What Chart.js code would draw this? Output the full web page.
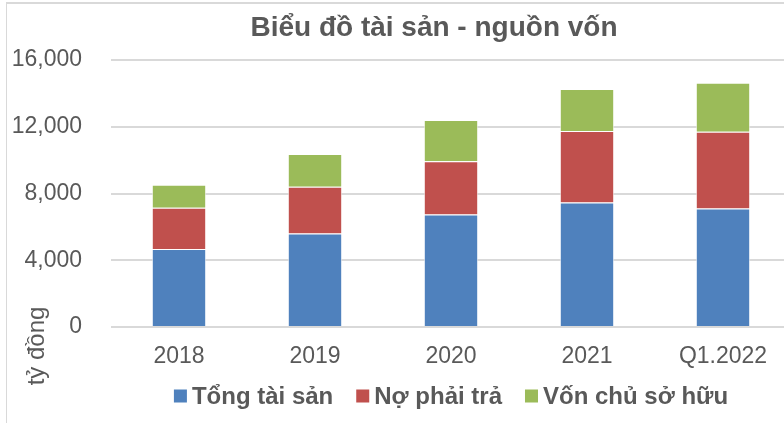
<!DOCTYPE html>
<html lang="vi">
<head>
  <meta charset="utf-8">
  <title>Biểu đồ tài sản - nguồn vốn</title>
  <script src="https://cdn.jsdelivr.net/npm/chart.js"></script>
  <style>
    body {
      margin: 0;
      background: #fff;
      font-family: 'Liberation Sans', Arial, sans-serif;
    }
    .wrap {
      position: relative;
      width: 784px;
      height: 423px;
      overflow: hidden;
    }
    /* thin chart frame like the Excel original */
    .frame {
      position: absolute;
      left: 6px;
      top: 2px;
      width: 900px;
      height: 500px;
      border-left: 1px solid #d9d9d9;
      border-top: 2px solid #d9d9d9;
    }
    canvas {
      position: absolute;
      left: 0;
      top: 0;
    }
  </style>
</head>
<body>
  <div class="wrap">
    <div class="frame"></div>
    <canvas id="chart" width="800" height="423"></canvas>
  </div>

  <script>
    // Data (tỷ đồng)
    const categories = ['2018', '2019', '2020', '2021', 'Q1.2022'];
    const tongTaiSan = [4680, 5600, 6740, 7460, 7100];
    const noPhaiTra = [2460, 2800, 3200, 4280, 4600];
    const vonChuSoHuu = [1380, 1960, 2460, 2520, 2940];
    const seriesNames = ['Tổng tài sản', 'Nợ phải trả', 'Vốn chủ sở hữu'];
    const seriesColors = ['#4F81BD', '#C0504D', '#9BBB59'];

    const textColor = '#595959';
    const fontFamily = "'Liberation Sans', Arial, sans-serif";

    // Title, rotated axis title and legend drawn by hand to match Excel placement
    const decorations = {
      id: 'decorations',
      afterDraw(chart) {
        const ctx = chart.ctx;
        const area = chart.chartArea;
        ctx.save();
        ctx.fillStyle = textColor;

        // title
        ctx.font = 'bold 28px ' + fontFamily;
        ctx.textAlign = 'center';
        ctx.textBaseline = 'middle';
        ctx.fillText('Biểu đồ tài sản - nguồn vốn', 434, 28);

        // y axis title
        ctx.save();
        ctx.translate(37, 346);
        ctx.rotate(-Math.PI / 2);
        ctx.font = '24px ' + fontFamily;
        ctx.fillText('tỷ đồng', 0, 0);
        ctx.restore();

        // legend
        ctx.font = 'bold 24px ' + fontFamily;
        ctx.textAlign = 'left';
        const box = 13, gap = 5, spacing = 23;
        const widths = seriesNames.map(n => box + gap + ctx.measureText(n).width);
        const total = widths.reduce((a, b) => a + b, 0) + spacing * (widths.length - 1);
        let x = (area.left + area.right) / 2 - total / 2;
        const y = 396;
        seriesNames.forEach((name, i) => {
          ctx.fillStyle = seriesColors[i];
          ctx.fillRect(x, y - box / 2, box, box);
          ctx.fillStyle = textColor;
          ctx.fillText(name, x + box + gap, y + 1);
          x += widths[i] + spacing;
        });
        ctx.restore();
      }
    };

    const series = [tongTaiSan, noPhaiTra, vonChuSoHuu];

    new Chart(document.getElementById('chart'), {
      type: 'bar',
      data: {
        labels: categories,
        datasets: series.map((values, i) => ({
          label: seriesNames[i],
          data: values,
          backgroundColor: seriesColors[i],
          borderColor: 'rgba(255,255,255,0.7)',
          borderWidth: 1,
          categoryPercentage: 1,
          barPercentage: 0.4
        }))
      },
      options: {
        responsive: false,
        animation: false,
        layout: { padding: { left: 0, top: 60, right: 9, bottom: 0 } },
        plugins: {
          legend: { display: false },
          title: { display: false },
          tooltip: { enabled: false }
        },
        scales: {
          x: {
            stacked: true,
            grid: { display: false, drawTicks: false },
            border: { display: false },
            ticks: {
              color: textColor,
              font: { family: fontFamily, size: 23 },
              padding: 16,
              maxRotation: 0
            },
            afterFit(scale) { scale.height = 96; }
          },
          y: {
            stacked: true,
            min: 0,
            max: 16000,
            grid: { color: '#d9d9d9', lineWidth: 2, drawTicks: false },
            border: { display: false },
            ticks: {
              stepSize: 4000,
              color: textColor,
              font: { family: fontFamily, size: 23 },
              padding: 29,
              callback: v => v.toLocaleString('en-US')
            },
            afterFit(scale) { scale.width = 111; }
          }
        }
      },
      plugins: [decorations]
    });
  </script>
</body>
</html>
